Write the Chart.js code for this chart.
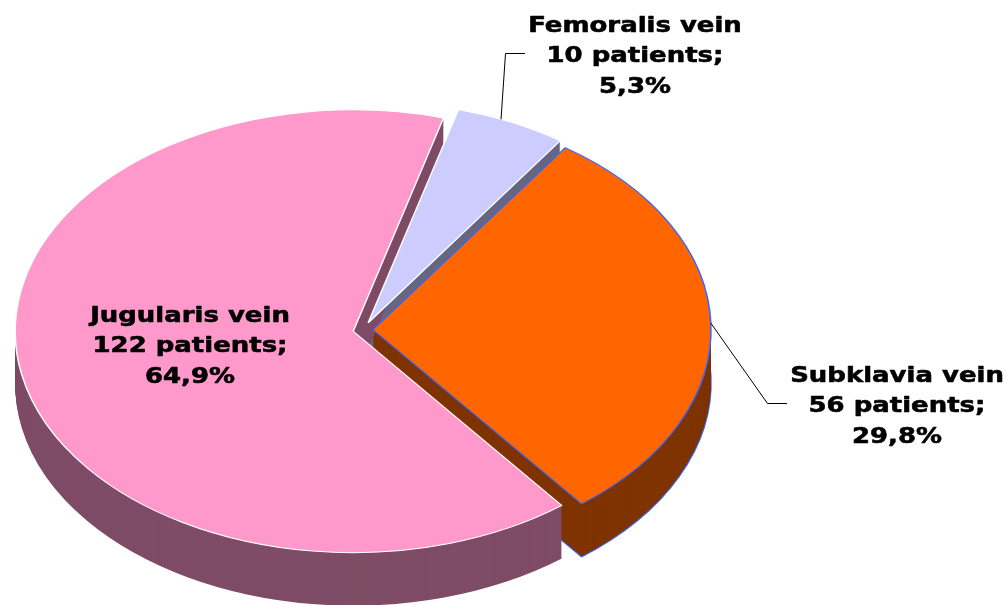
<!DOCTYPE html>
<html>
<head>
<meta charset="utf-8">
<script src="https://cdn.jsdelivr.net/npm/chart.js@4/dist/chart.umd.min.js"></script>
<style>
  html, body { margin: 0; padding: 0; background: #ffffff; }
  canvas { display: block; }
</style>
</head>
<body>
<canvas id="c" width="1007" height="605"></canvas>
<script>
// ---- data ----
const categories = ['Femoralis vein', 'Subklavia vein', 'Jugularis vein'];
const patients = [10, 56, 122];

// ---- styles ----
const topColors = ['#CCCCFF', '#FF6600', '#FF99CC'];
const sideColors = ['#666680', '#7F3300', '#7F4C66'];
const borderColors = ['#FFFFFF', '#3366FF', '#FFFFFF'];
const explode = [12, 10, 10];        // radial explosion (unscaled px)
const TILT = 0.655;                  // vertical squash of the pie
const DEPTH = 53;                    // thickness of the pie (screen px)
const RADIUS = 338;
const CENTER = { x: 363, y: 330 };

// label layout
const labelLayout = [
  { x: 635, y: 31.5, anchor: 0.4, leader: [[505.5, 53.5], [525, 53.5]] },
  { x: 897, y: 381.5, anchor: 0.5, leader: [[767.5, 403.5], [787, 403.5]] },
  { x: 190, y: 321.5, anchor: 0.5, leader: null }
];
const LINE_H = 30.8;
const TEXT_SX = 1.18;

const total = patients.reduce((a, b) => a + b, 0);

const pie3d = {
  id: 'pie3d',
  beforeDatasetDraw(chart, args) {
    const ctx = chart.ctx;
    const arcs = args.meta.data;
    if (!arcs.length) return false;
    const cx = arcs[0].x, cy = arcs[0].y;
    const place = (i, dy) => {
      const a = arcs[i];
      const mid = (a.startAngle + a.endAngle) / 2;
      ctx.translate(cx, cy + dy);
      ctx.scale(1, TILT);
      ctx.translate(-cx, -cy);
      ctx.translate(Math.cos(mid) * explode[i], Math.sin(mid) * explode[i]);
    };
    // sides (extrusion)
    arcs.forEach((a, i) => {
      const saved = a.options;
      for (let dy = DEPTH; dy >= 1; dy--) {
        ctx.save();
        place(i, dy);
        a.options = Object.assign({}, saved, {
          backgroundColor: sideColors[i],
          borderColor: i === 1 ? borderColors[i] : sideColors[i],
          borderWidth: dy === DEPTH ? (i === 1 ? 1.5 : 0) : 0
        });
        a.draw(ctx);
        ctx.restore();
      }
      a.options = saved;
    });
    // top faces
    arcs.forEach((a, i) => {
      ctx.save();
      place(i, 0);
      a.draw(ctx);
      ctx.restore();
    });
    return false;
  },
  afterDatasetsDraw(chart) {
    const ctx = chart.ctx;
    const arcs = chart.getDatasetMeta(0).data;
    const cx = arcs[0].x, cy = arcs[0].y;
    ctx.save();
    arcs.forEach((a, i) => {
      const lay = labelLayout[i];
      const mid = (a.startAngle + a.endAngle) / 2;
      if (lay.leader) {
        const ang = a.startAngle + (a.endAngle - a.startAngle) * lay.anchor;
        const r = a.outerRadius;
        const sx = cx + Math.cos(mid) * explode[i] + Math.cos(ang) * r;
        const sy = cy + (Math.sin(mid) * explode[i] + Math.sin(ang) * r) * TILT;
        ctx.beginPath();
        ctx.strokeStyle = '#000000';
        ctx.lineWidth = 1;
        ctx.moveTo(sx, sy);
        lay.leader.forEach(p => ctx.lineTo(p[0], p[1]));
        ctx.stroke();
      }
      const pct = (patients[i] / total * 100).toFixed(1).replace('.', ',') + '%';
      const lines = [categories[i], patients[i] + ' patients;', pct];
      ctx.fillStyle = '#000000';
      ctx.strokeStyle = '#000000';
      ctx.lineWidth = 0.6;
      ctx.lineJoin = 'round';
      ctx.font = 'bold 22px "DejaVu Sans"';
      ctx.textAlign = 'center';
      ctx.textBaseline = 'alphabetic';
      lines.forEach((t, j) => {
        ctx.save();
        ctx.translate(lay.x, lay.y + j * LINE_H);
        ctx.scale(TEXT_SX, 1);
        ctx.fillText(t, 0, 0);
        ctx.strokeText(t, 0, 0);
        ctx.restore();
      });
    });
    ctx.restore();
  }
};

new Chart(document.getElementById('c'), {
  type: 'pie',
  data: {
    labels: categories,
    datasets: [{
      data: patients,
      backgroundColor: topColors,
      borderColor: borderColors,
      borderWidth: 1.5,
      offset: 0,
      hoverOffset: 0,
      radius: RADIUS,
      clip: false
    }]
  },
  options: {
    responsive: false,
    animation: false,
    rotation: 15.5,
    layout: {
      padding: { left: 0, top: 2 * CENTER.y - 605, right: 1007 - 2 * CENTER.x, bottom: 0 }
    },
    plugins: {
      legend: { display: false },
      tooltip: { enabled: false }
    },
    events: []
  },
  plugins: [pie3d]
});
</script>
</body>
</html>
